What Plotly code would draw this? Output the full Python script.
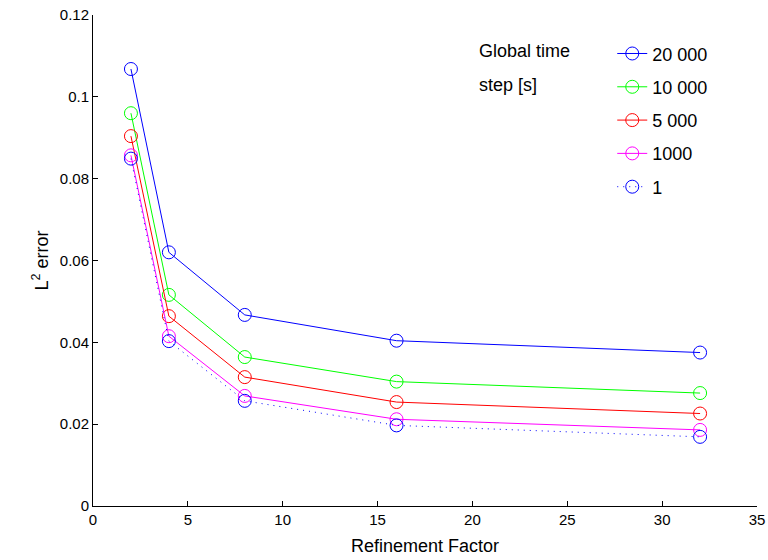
import plotly.graph_objects as go

refinement = [2, 4, 8, 16, 32]
err_20000 = [0.1068, 0.0620, 0.0467, 0.0404, 0.0375]
err_10000 = [0.0960, 0.0516, 0.0364, 0.0304, 0.0276]
err_5000 = [0.0904, 0.0464, 0.0315, 0.0254, 0.0226]
err_1000 = [0.0857, 0.0415, 0.0269, 0.0212, 0.0186]
err_1 = [0.0849, 0.0403, 0.0257, 0.0197, 0.0169]

series = [
    ("20 000", err_20000, "#0000ff", "solid"),
    ("10 000", err_10000, "#00ff00", "solid"),
    ("5 000", err_5000, "#ff0000", "solid"),
    ("1000", err_1000, "#ff00ff", "solid"),
    ("1", err_1, "#0000ff", "1px,5px"),
]

FONT = "Arial, Liberation Sans, sans-serif"
fig = go.Figure()
legend_names = ["legend", "legend2", "legend3", "legend4", "legend5"]
for i, (name, vals, color, dash) in enumerate(series):
    fig.add_trace(go.Scatter(
        x=refinement, y=vals, name=name, mode="lines+markers",
        line=dict(color=color, width=1, dash=dash),
        marker=dict(symbol="circle-open", size=13, color=color, line=dict(width=1, color=color)),
        legend=legend_names[i],
    ))

leg_y0 = 0.921
leg_dy = 33.3 / 491
layout_legends = {}
for i, ln in enumerate(legend_names):
    layout_legends[ln] = dict(
        x=0.782, y=leg_y0 - i * leg_dy, xanchor="left", yanchor="middle",
        bgcolor="rgba(0,0,0,0)", font=dict(family=FONT, size=18, color="black"),
        itemwidth=30,
    )

fig.update_layout(
    width=768, height=560,
    margin=dict(l=93, r=11, t=15, b=54, autoexpand=False),
    paper_bgcolor="white", plot_bgcolor="white",
    font=dict(family=FONT, size=14, color="black"),
    showlegend=True,
    xaxis=dict(
        range=[0, 35], tickvals=[0, 5, 10, 15, 20, 25, 30, 35],
        ticks="inside", ticklen=5, tickcolor="black",
        showline=True, linecolor="black", linewidth=1,
        showgrid=False, zeroline=False,
        title=dict(text="Refinement Factor", font=dict(family=FONT, size=18), standoff=12),
        tickfont=dict(family=FONT, size=15),
    ),
    yaxis=dict(
        range=[0, 0.12], tickvals=[0, 0.02, 0.04, 0.06, 0.08, 0.1, 0.12],
        ticktext=["0", "0.02", "0.04", "0.06", "0.08", "0.1", "0.12"],
        ticks="inside", ticklen=5, tickcolor="black",
        showline=True, linecolor="black", linewidth=1,
        showgrid=False, zeroline=False,
        title=dict(text="L<sup>2</sup> error", font=dict(family=FONT, size=18), standoff=6),
        tickfont=dict(family=FONT, size=15),
    ),
    **layout_legends,
)

fig.add_annotation(text="Global time", x=0.578, y=0.926, xref="paper", yref="paper",
                   xanchor="left", yanchor="middle", showarrow=False,
                   font=dict(family=FONT, size=18, color="black"))
fig.add_annotation(text="step [s]", x=0.578, y=0.926 - leg_dy, xref="paper", yref="paper",
                   xanchor="left", yanchor="middle", showarrow=False,
                   font=dict(family=FONT, size=18, color="black"))

fig.write_html("out.html")
